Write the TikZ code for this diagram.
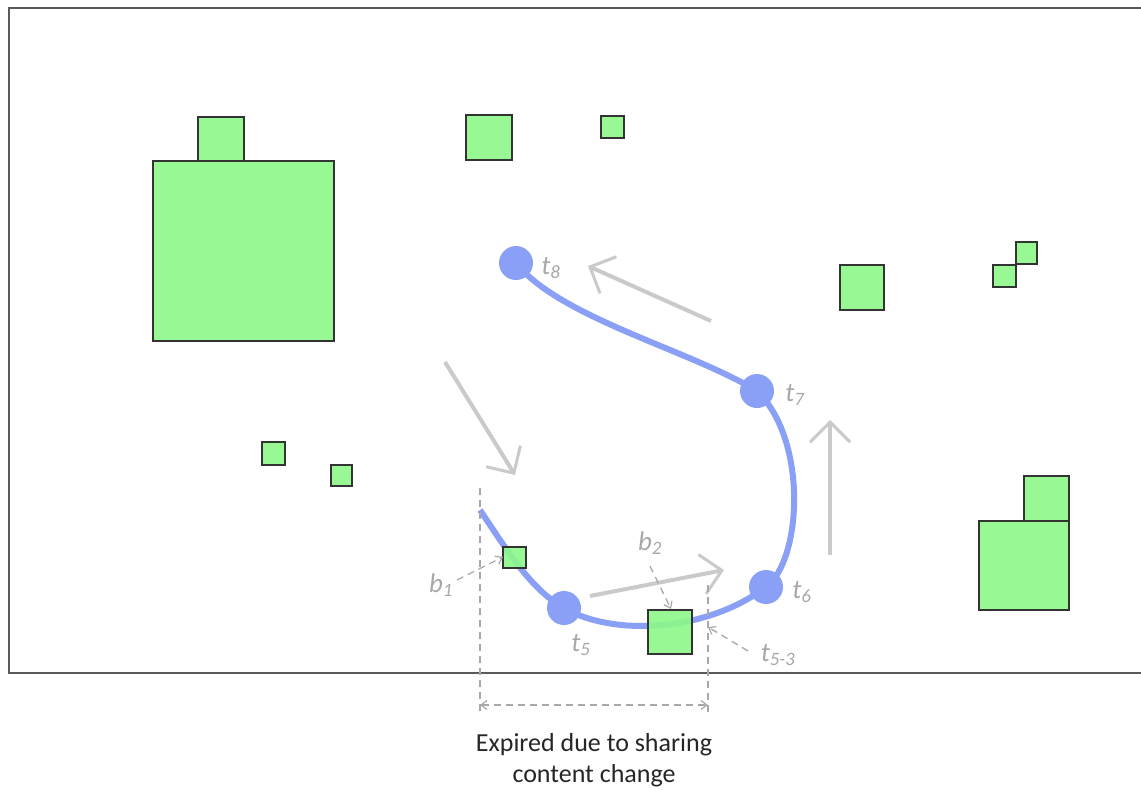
\documentclass[tikz,border=0pt]{standalone}
\usepackage{fontspec}
\setmainfont{Carlito}
\usetikzlibrary{arrows.meta}
\definecolor{boxgreen}{HTML}{8CF889}
\definecolor{trackblue}{HTML}{8AA0F7}
\definecolor{flowgray}{HTML}{CACACA}
\definecolor{labelgray}{HTML}{A8A8A8}
\definecolor{framegray}{HTML}{5A5A5A}
\tikzset{
  blob/.style={draw=black!80, line width=1.2pt, fill=boxgreen, fill opacity=0.9, draw opacity=1},
  dot/.style={circle, fill=trackblue, minimum size=34pt, inner sep=0pt},
  track/.style={trackblue, line width=6pt},
  flow/.style={flowgray, line width=4pt, -{Straight Barb[length=20pt,width=40pt,line width=3pt]}},
  leader/.style={labelgray, line width=1.3pt, dash pattern=on 7pt off 5pt, -{Straight Barb[length=6pt,width=9pt,line width=1.2pt]}},
  guide/.style={labelgray, line width=1.3pt, dash pattern=on 7pt off 5pt},
  tlabel/.style={text=labelgray, font=\fontsize{27}{29}\selectfont\itshape, inner sep=1pt},
  caption/.style={font=\fontsize{26}{31}\selectfont, align=center, text=black!85}
}
\begin{document}
\begin{tikzpicture}[x=1pt,y=-1pt]
\useasboundingbox (0,0) rectangle (1141,790);
\fill[white] (0,0) rectangle (1141,790);

% scene frame (open on the right)
\draw[framegray, line width=2.2pt] (1145,8) -- (9,8) -- (9,673) -- (1145,673);

% tracked path
\coordinate (s0) at (480,510);
\node[dot] (t5) at (564,608) {};
\node[dot] (t6) at (766,587) {};
\node[dot] (t7) at (757,391) {};
\node[dot] (t8) at (516,263) {};
\draw[track] (s0) .. controls (510,555) and (532,590) .. (t5.center)
  .. controls (612,636) and (705,633) .. (t6.center)
  .. controls (802,560) and (808,440) .. (t7.center)
  .. controls (690,350) and (560,318) .. (t8.center);

% static blocks
\draw[blob] (153,161) rectangle (334,341);
\draw[blob] (198,117) rectangle (244,161);
\draw[blob] (466,115) rectangle (512,160);
\draw[blob] (601,116) rectangle (624,138);
\draw[blob] (840,265) rectangle (884,310);
\draw[blob] (1016,242) rectangle (1037,264);
\draw[blob] (993,265) rectangle (1016,287);
\draw[blob] (262,442) rectangle (285,465);
\draw[blob] (331,465) rectangle (352,486);
\draw[blob] (979,521) rectangle (1069,610);
\draw[blob] (1024,476) rectangle (1069,521);
\draw[blob] (503,547) rectangle (526,568);
\draw[blob] (648,610) rectangle (692,654);
\coordinate (b1tip) at (503,557);
\coordinate (b2tip) at (671,609);
\coordinate (t53tip) at (708,627);

% motion arrows
\coordinate (fa1) at (445,362); \coordinate (fa2) at (515,475);
\coordinate (fb1) at (590,596); \coordinate (fb2) at (724,570);
\coordinate (fc1) at (830,555); \coordinate (fc2) at (830,420);
\coordinate (fd1) at (711,321); \coordinate (fd2) at (588,266);
\draw[flow] (fa1) -- (fa2);
\draw[flow] (fb1) -- (fb2);
\draw[flow] (fc1) -- (fc2);
\draw[flow] (fd1) -- (fd2);

% labels
\node[tlabel] (l8) at (551,268) {t\textsubscript{8}};
\node[tlabel] (l7) at (795,395) {t\textsubscript{7}};
\node[tlabel] (l6) at (802,592) {t\textsubscript{6}};
\node[tlabel] (l5) at (581,645) {t\textsubscript{5}};
\node[tlabel] (l53) at (778,655) {t\textsubscript{5-3}};
\node[tlabel] (lb1) at (441,585) {b\textsubscript{1}};
\node[tlabel] (lb2) at (650,543) {b\textsubscript{2}};

\draw[leader] (457,580) -- (b1tip);
\draw[leader] (650,566) -- (b2tip);
\draw[leader] (748,651) -- (t53tip);

% expiry span
\coordinate (g1a) at (480,488); \coordinate (g1b) at (480,716);
\coordinate (g2a) at (708,585); \coordinate (g2b) at (708,716);
\draw[guide] (g1a) -- (g1b);
\draw[guide] (g2a) -- (g2b);
\coordinate (sp1) at (480,705); \coordinate (sp2) at (708,705);
\draw[leader, {Straight Barb[length=6pt,width=9pt,line width=1.2pt]}-{Straight Barb[length=6pt,width=9pt,line width=1.2pt]}] (sp1) -- (sp2);
\node[caption] (cap) at (594,760) {Expired due to sharing\\content change};
\end{tikzpicture}
\end{document}
